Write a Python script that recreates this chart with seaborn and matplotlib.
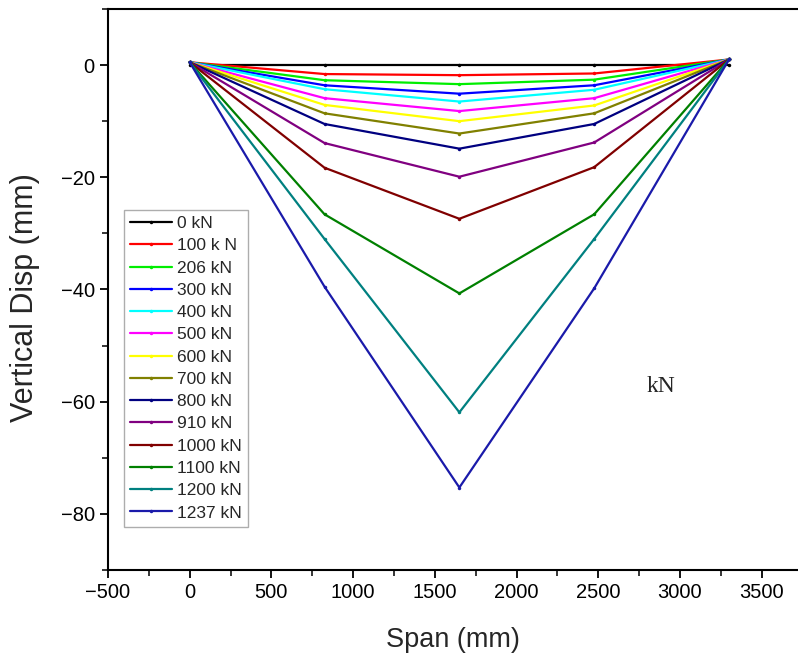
import pandas as pd
import matplotlib.pyplot as plt
import seaborn as sns
from matplotlib.ticker import MultipleLocator

# Measurement positions along the span (mm)
span = [0, 825, 1650, 2475, 3300]

loads = ['0 kN', '100 k N', '206 kN', '300 kN', '400 kN', '500 kN', '600 kN',
         '700 kN', '800 kN', '910 kN', '1000 kN', '1100 kN', '1200 kN', '1237 kN']

# Vertical displacement (mm) at each span position, per load step
d_0 = [0.0, 0.0, 0.0, 0.0, 0.0]
d_100 = [0.5, -1.6, -1.8, -1.5, 1.0]
d_206 = [0.5, -2.7, -3.4, -2.6, 1.0]
d_300 = [0.5, -3.6, -5.1, -3.6, 1.0]
d_400 = [0.5, -4.3, -6.5, -4.4, 1.0]
d_500 = [0.5, -5.9, -8.2, -5.9, 1.0]
d_600 = [0.5, -7.1, -10.0, -7.2, 1.0]
d_700 = [0.5, -8.6, -12.2, -8.6, 1.0]
d_800 = [0.5, -10.5, -14.9, -10.5, 1.0]
d_910 = [0.5, -13.9, -19.9, -13.8, 1.0]
d_1000 = [0.5, -18.3, -27.4, -18.2, 1.0]
d_1100 = [0.5, -26.6, -40.7, -26.6, 1.0]
d_1200 = [0.5, -31.0, -61.9, -31.0, 1.0]
d_1237 = [0.5, -39.5, -75.3, -39.8, 1.0]

disp = [d_0, d_100, d_206, d_300, d_400, d_500, d_600, d_700,
        d_800, d_910, d_1000, d_1100, d_1200, d_1237]

colors = ['#000000', '#ff0000', '#00ee00', '#0000ff', '#00ffff', '#ff00ff',
          '#ffff00', '#808000', '#000080', '#800080', '#800000', '#008000',
          '#008080', '#1a1aaa']

rows = []
for load, vals in zip(loads, disp):
    for x, y in zip(span, vals):
        rows.append({'Span': x, 'Disp': y, 'Load': load})
df = pd.DataFrame(rows)

sns.set_style('ticks')
plt.rcParams['font.family'] = ['Liberation Sans', 'DejaVu Sans']

fig = plt.figure(figsize=(7.98, 6.6), dpi=100)
ax = fig.add_axes([0.1353, 0.1364, 0.8647, 0.85])

sns.lineplot(data=df, x='Span', y='Disp', hue='Load', hue_order=loads,
             palette=dict(zip(loads, colors)), sort=False, estimator=None,
             marker='.', markersize=5, markeredgewidth=0, linewidth=1.6, ax=ax)

ax.set_xlim(-500, 3722)
ax.set_ylim(-90, 10)
ax.xaxis.set_major_locator(MultipleLocator(500))
ax.xaxis.set_minor_locator(MultipleLocator(250))
ax.set_yticks([-80, -60, -40, -20, 0])
ax.yaxis.set_minor_locator(MultipleLocator(10))
ax.tick_params(which='major', direction='out', length=6, width=1.3, labelsize=14.5,
               colors='black')
ax.tick_params(which='minor', direction='out', length=4, width=1.3)

for side in ['left', 'bottom', 'top']:
    ax.spines[side].set_linewidth(1.5)
    ax.spines[side].set_color('black')
ax.spines['right'].set_visible(False)

ax.set_xlabel('Span (mm)', fontsize=19.5, labelpad=18)
ax.set_ylabel('Vertical Disp (mm)', fontsize=22)
ax.yaxis.set_label_coords(-0.099, 0.485)

leg = ax.legend(loc='upper left', bbox_to_anchor=(0.023, 0.642), fontsize=12.5,
                frameon=True, fancybox=False, edgecolor='#999999',
                handlelength=2.4, handletextpad=0.3, labelspacing=0.41,
                borderpad=0.35, borderaxespad=0)
leg.get_frame().set_linewidth(1.0)

fig.text(0.828, 0.415, 'kN', fontsize=17, family='Liberation Serif',
         ha='center', va='center')

fig.savefig('out.png', dpi=100)
